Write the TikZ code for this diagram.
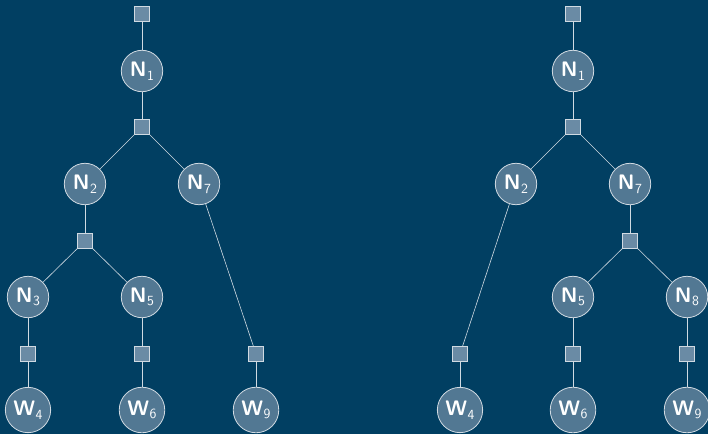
\documentclass[tikz,border=0pt]{standalone}
\usepackage{tikz}
\definecolor{bg}{HTML}{013F62}
\definecolor{cfill}{HTML}{527893}
\definecolor{sfill}{HTML}{6A8BA5}
\definecolor{edge}{HTML}{D0DAE2}
\tikzset{
  var/.style={circle, draw=edge, line width=0.8pt, fill=cfill, text=white, inner sep=4pt, minimum size=41pt, font=\sffamily\fontsize{21}{22}\selectfont},
  fac/.style={rectangle, draw=edge, line width=0.8pt, fill=sfill, minimum size=15pt, inner sep=0pt},
  con/.style={draw=edge, line width=0.6pt}
}
\newcommand{\lab}[2]{\textbf{#1}\kern0.5pt\raisebox{-0.4ex}{\fontsize{14}{15}\selectfont #2}}
\begin{document}
\begin{tikzpicture}[x=1pt,y=1pt]
\fill[bg] (0,0) rectangle (708,434);
\useasboundingbox (0,0) rectangle (708,434);
% left tree
\node[fac] (La) at (142,420) {};
\node[var] (LN1) at (142,363) {\lab{N}{1}};
\node[fac] (Lb) at (142,307) {};
\node[var] (LN2) at (85,250) {\lab{N}{2}};
\node[var] (LN7) at (199,250) {\lab{N}{7}};
\node[fac] (Lc) at (85,193) {};
\node[var] (LN3) at (28,137) {\lab{N}{3}};
\node[var] (LN5) at (142,137) {\lab{N}{5}};
\node[fac] (Ld) at (28,80) {};
\node[fac] (Le) at (142,80) {};
\node[fac] (Lf) at (256,80) {};
\node[var] (LW4) at (28,24) {\lab{W}{4}};
\node[var] (LW6) at (142,24) {\lab{W}{6}};
\node[var] (LW9) at (256,24) {\lab{W}{9}};
\draw[con] (La) -- (LN1);
\draw[con] (LN1) -- (Lb);
\draw[con] (Lb) -- (LN2);
\draw[con] (Lb) -- (LN7);
\draw[con] (LN2) -- (Lc);
\draw[con] (Lc) -- (LN3);
\draw[con] (Lc) -- (LN5);
\draw[con] (LN3) -- (Ld);
\draw[con] (LN5) -- (Le);
\draw[con] (LN7) -- (Lf);
\draw[con] (Ld) -- (LW4);
\draw[con] (Le) -- (LW6);
\draw[con] (Lf) -- (LW9);
% right tree
\node[fac] (Ra) at (573,420) {};
\node[var] (RN1) at (573,363) {\lab{N}{1}};
\node[fac] (Rb) at (573,307) {};
\node[var] (RN2) at (516,250) {\lab{N}{2}};
\node[var] (RN7) at (630,250) {\lab{N}{7}};
\node[fac] (Rc) at (630,193) {};
\node[var] (RN5) at (573,137) {\lab{N}{5}};
\node[var] (RN8) at (687,137) {\lab{N}{8}};
\node[fac] (Rd) at (460,80) {};
\node[fac] (Re) at (573,80) {};
\node[fac] (Rf) at (687,80) {};
\node[var] (RW4) at (460,24) {\lab{W}{4}};
\node[var] (RW6) at (573,24) {\lab{W}{6}};
\node[var] (RW9) at (687,24) {\lab{W}{9}};
\draw[con] (Ra) -- (RN1);
\draw[con] (RN1) -- (Rb);
\draw[con] (Rb) -- (RN2);
\draw[con] (Rb) -- (RN7);
\draw[con] (RN7) -- (Rc);
\draw[con] (Rc) -- (RN5);
\draw[con] (Rc) -- (RN8);
\draw[con] (RN2) -- (Rd);
\draw[con] (RN5) -- (Re);
\draw[con] (RN8) -- (Rf);
\draw[con] (Rd) -- (RW4);
\draw[con] (Re) -- (RW6);
\draw[con] (Rf) -- (RW9);
\end{tikzpicture}
\end{document}
